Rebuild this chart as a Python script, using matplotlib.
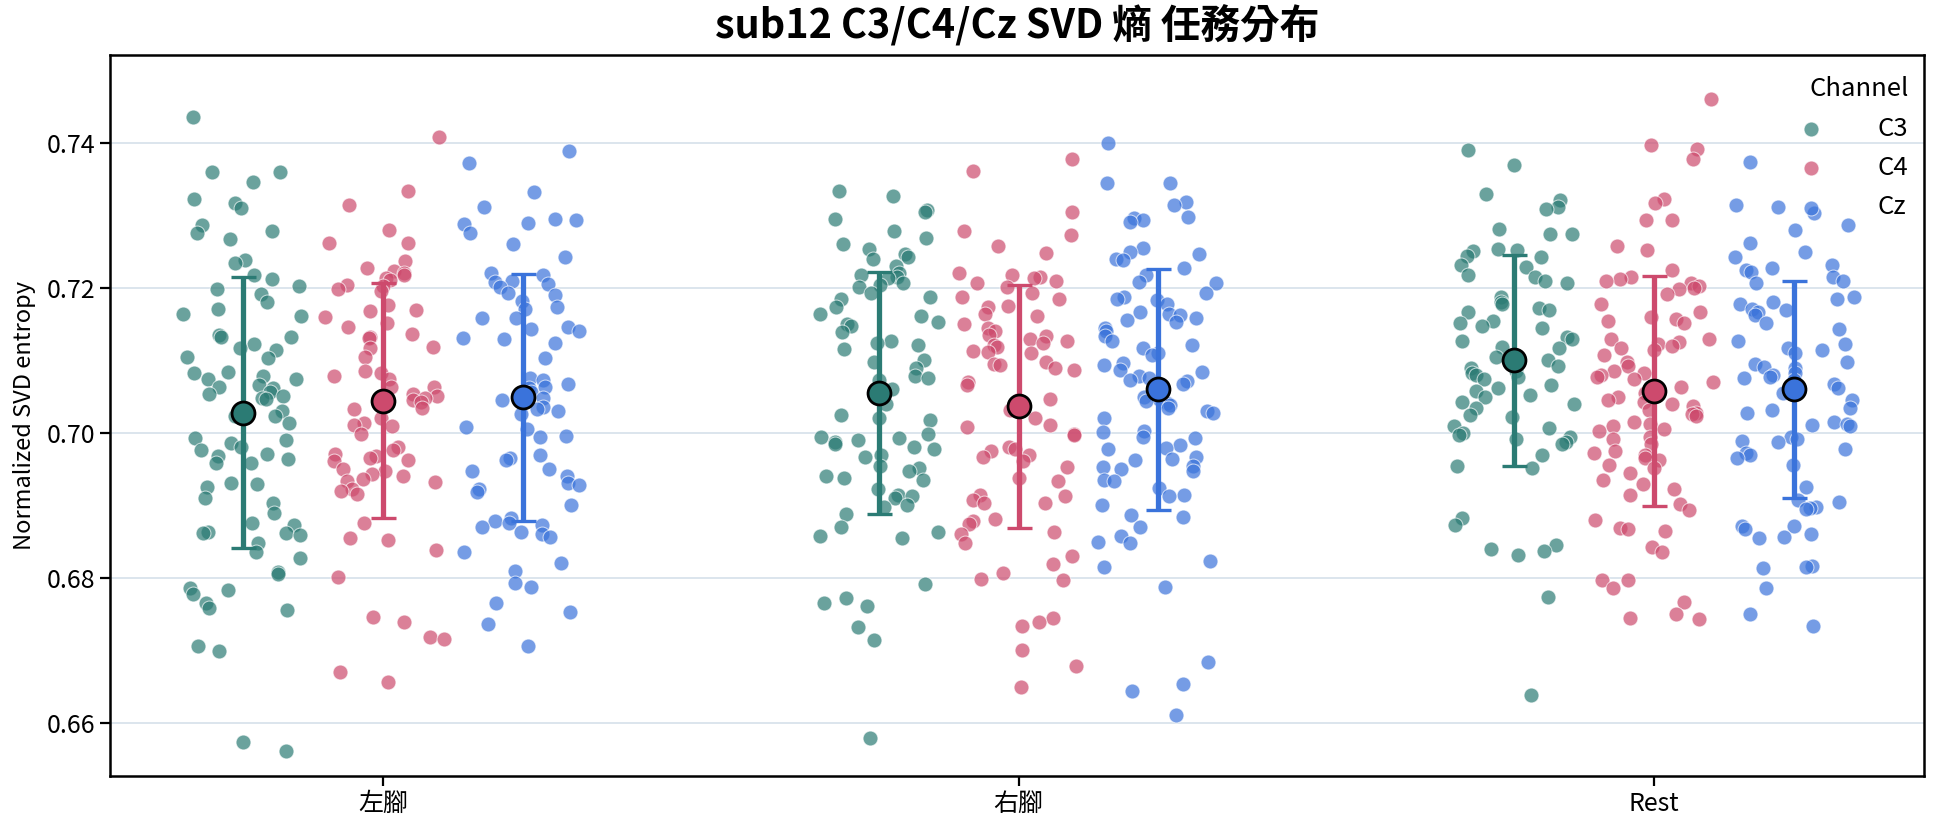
import numpy as np
import matplotlib
matplotlib.use("Agg")
import matplotlib.pyplot as plt

plt.rcParams['font.family'] = ['Noto Sans CJK TC', 'DejaVu Sans']

# %% data
tasks = ["左腳", "右腳", "Rest"]
channels = ["C3", "C4", "Cz"]
colors = ["#2b7b74", "#cd4a6d", "#3a73db"]

c3_left = [0.7435, 0.7359, 0.7359, 0.7346, 0.7322, 0.7317, 0.7310, 0.7286, 0.7279, 0.7276,
           0.7268, 0.7239, 0.7234, 0.7218, 0.7212, 0.7203, 0.7198, 0.7191, 0.7180, 0.7171,
           0.7164, 0.7161, 0.7135, 0.7132, 0.7132, 0.7122, 0.7117, 0.7114, 0.7104, 0.7103,
           0.7084, 0.7082, 0.7079, 0.7074, 0.7074, 0.7066, 0.7063, 0.7062, 0.7056, 0.7054,
           0.7051, 0.7048, 0.7047, 0.7030, 0.7023, 0.7023, 0.7014, 0.6993, 0.6990, 0.6986,
           0.6980, 0.6977, 0.6971, 0.6968, 0.6964, 0.6959, 0.6958, 0.6931, 0.6930, 0.6925,
           0.6910, 0.6903, 0.6889, 0.6876, 0.6873, 0.6863, 0.6862, 0.6862, 0.6859, 0.6848,
           0.6836, 0.6828, 0.6808, 0.6806, 0.6786, 0.6783, 0.6778, 0.6765, 0.6759, 0.6756,
           0.6706, 0.6699, 0.6574, 0.6562]
c4_left = [0.7408, 0.7333, 0.7314, 0.7280, 0.7262, 0.7262, 0.7237, 0.7228, 0.7223, 0.7220,
           0.7217, 0.7214, 0.7211, 0.7204, 0.7202, 0.7199, 0.7196, 0.7176, 0.7169, 0.7168,
           0.7160, 0.7151, 0.7146, 0.7137, 0.7132, 0.7131, 0.7118, 0.7117, 0.7105, 0.7085,
           0.7082, 0.7079, 0.7074, 0.7063, 0.7063, 0.7054, 0.7051, 0.7048, 0.7045, 0.7042,
           0.7034, 0.7033, 0.7020, 0.7014, 0.7011, 0.7010, 0.6999, 0.6980, 0.6977, 0.6971,
           0.6968, 0.6965, 0.6962, 0.6961, 0.6950, 0.6947, 0.6943, 0.6940, 0.6937, 0.6934,
           0.6932, 0.6922, 0.6920, 0.6916, 0.6876, 0.6855, 0.6852, 0.6839, 0.6802, 0.6746,
           0.6739, 0.6719, 0.6716, 0.6671, 0.6656]
cz_left = [0.7388, 0.7372, 0.7332, 0.7311, 0.7295, 0.7294, 0.7289, 0.7288, 0.7276, 0.7260,
           0.7243, 0.7220, 0.7217, 0.7209, 0.7208, 0.7205, 0.7201, 0.7193, 0.7190, 0.7182,
           0.7174, 0.7171, 0.7159, 0.7158, 0.7146, 0.7143, 0.7140, 0.7131, 0.7129, 0.7124,
           0.7103, 0.7076, 0.7073, 0.7067, 0.7063, 0.7062, 0.7057, 0.7048, 0.7045, 0.7036,
           0.7033, 0.7030, 0.7026, 0.7008, 0.7005, 0.6996, 0.6994, 0.6969, 0.6965, 0.6962,
           0.6950, 0.6947, 0.6940, 0.6931, 0.6928, 0.6922, 0.6919, 0.6900, 0.6882, 0.6879,
           0.6876, 0.6873, 0.6870, 0.6863, 0.6860, 0.6857, 0.6836, 0.6820, 0.6809, 0.6793,
           0.6788, 0.6765, 0.6753, 0.6736, 0.6706]

c3_right = [0.7334, 0.7327, 0.7307, 0.7304, 0.7295, 0.7278, 0.7269, 0.7261, 0.7254, 0.7247,
            0.7242, 0.7240, 0.7230, 0.7221, 0.7218, 0.7215, 0.7213, 0.7206, 0.7204, 0.7201,
            0.7193, 0.7187, 0.7185, 0.7173, 0.7164, 0.7161, 0.7153, 0.7150, 0.7147, 0.7139,
            0.7127, 0.7124, 0.7121, 0.7115, 0.7101, 0.7098, 0.7090, 0.7078, 0.7075, 0.7073,
            0.7061, 0.7040, 0.7024, 0.7021, 0.7018, 0.6998, 0.6995, 0.6993, 0.6990, 0.6987,
            0.6984, 0.6981, 0.6978, 0.6970, 0.6967, 0.6955, 0.6951, 0.6947, 0.6941, 0.6938,
            0.6935, 0.6922, 0.6915, 0.6913, 0.6910, 0.6901, 0.6898, 0.6888, 0.6870, 0.6864,
            0.6858, 0.6855, 0.6791, 0.6773, 0.6766, 0.6761, 0.6733, 0.6715, 0.6579]
c4_right = [0.7377, 0.7361, 0.7305, 0.7279, 0.7273, 0.7257, 0.7248, 0.7221, 0.7218, 0.7215,
            0.7213, 0.7210, 0.7207, 0.7201, 0.7193, 0.7187, 0.7184, 0.7175, 0.7173, 0.7164,
            0.7161, 0.7150, 0.7144, 0.7141, 0.7135, 0.7133, 0.7130, 0.7127, 0.7124, 0.7121,
            0.7118, 0.7113, 0.7111, 0.7110, 0.7098, 0.7095, 0.7093, 0.7090, 0.7087, 0.7070,
            0.7066, 0.7047, 0.7045, 0.7031, 0.7021, 0.7011, 0.7008, 0.6998, 0.6997, 0.6981,
            0.6978, 0.6975, 0.6970, 0.6967, 0.6961, 0.6953, 0.6938, 0.6933, 0.6915, 0.6913,
            0.6907, 0.6904, 0.6903, 0.6881, 0.6878, 0.6875, 0.6864, 0.6861, 0.6848, 0.6830,
            0.6819, 0.6807, 0.6798, 0.6797, 0.6745, 0.6739, 0.6734, 0.6700, 0.6678, 0.6650]
cz_right = [0.7400, 0.7345, 0.7344, 0.7318, 0.7314, 0.7298, 0.7296, 0.7293, 0.7291, 0.7255,
            0.7250, 0.7247, 0.7240, 0.7238, 0.7227, 0.7217, 0.7208, 0.7207, 0.7193, 0.7187,
            0.7184, 0.7183, 0.7178, 0.7167, 0.7164, 0.7162, 0.7158, 0.7155, 0.7153, 0.7145,
            0.7141, 0.7133, 0.7127, 0.7121, 0.7117, 0.7110, 0.7107, 0.7097, 0.7093, 0.7087,
            0.7084, 0.7078, 0.7075, 0.7073, 0.7071, 0.7067, 0.7050, 0.7047, 0.7044, 0.7041,
            0.7038, 0.7035, 0.7030, 0.7027, 0.7021, 0.7002, 0.7001, 0.6995, 0.6993, 0.6983,
            0.6979, 0.6978, 0.6967, 0.6964, 0.6962, 0.6955, 0.6953, 0.6950, 0.6947, 0.6935,
            0.6933, 0.6924, 0.6915, 0.6913, 0.6901, 0.6887, 0.6884, 0.6870, 0.6858, 0.6850,
            0.6848, 0.6824, 0.6815, 0.6787, 0.6684, 0.6654, 0.6644, 0.6611]

c3_rest = [0.7390, 0.7369, 0.7330, 0.7321, 0.7312, 0.7308, 0.7281, 0.7274, 0.7274, 0.7254,
           0.7252, 0.7251, 0.7244, 0.7242, 0.7231, 0.7229, 0.7217, 0.7215, 0.7209, 0.7206,
           0.7188, 0.7180, 0.7178, 0.7172, 0.7169, 0.7166, 0.7154, 0.7151, 0.7148, 0.7145,
           0.7132, 0.7130, 0.7127, 0.7118, 0.7117, 0.7108, 0.7105, 0.7100, 0.7092, 0.7089,
           0.7086, 0.7083, 0.7080, 0.7077, 0.7074, 0.7066, 0.7062, 0.7058, 0.7052, 0.7049,
           0.7043, 0.7040, 0.7034, 0.7025, 0.7022, 0.7009, 0.7007, 0.7000, 0.6997, 0.6994,
           0.6991, 0.6988, 0.6985, 0.6969, 0.6954, 0.6951, 0.6883, 0.6873, 0.6846, 0.6840,
           0.6837, 0.6831, 0.6774, 0.6639]
c4_rest = [0.7460, 0.7397, 0.7391, 0.7377, 0.7322, 0.7317, 0.7294, 0.7294, 0.7258, 0.7252,
           0.7225, 0.7215, 0.7212, 0.7210, 0.7206, 0.7203, 0.7200, 0.7198, 0.7191, 0.7178,
           0.7166, 0.7160, 0.7157, 0.7154, 0.7151, 0.7130, 0.7129, 0.7126, 0.7123, 0.7120,
           0.7117, 0.7114, 0.7108, 0.7098, 0.7092, 0.7086, 0.7083, 0.7080, 0.7077, 0.7074,
           0.7070, 0.7063, 0.7055, 0.7049, 0.7046, 0.7043, 0.7040, 0.7037, 0.7031, 0.7028,
           0.7026, 0.7023, 0.7015, 0.7012, 0.7009, 0.7006, 0.7003, 0.6994, 0.6991, 0.6985,
           0.6975, 0.6972, 0.6969, 0.6966, 0.6963, 0.6956, 0.6951, 0.6945, 0.6935, 0.6929,
           0.6923, 0.6914, 0.6902, 0.6894, 0.6880, 0.6869, 0.6868, 0.6865, 0.6843, 0.6836,
           0.6797, 0.6797, 0.6786, 0.6767, 0.6750, 0.6745, 0.6743]
cz_rest = [0.7374, 0.7314, 0.7311, 0.7303, 0.7286, 0.7280, 0.7262, 0.7249, 0.7242, 0.7231,
           0.7228, 0.7225, 0.7222, 0.7215, 0.7209, 0.7206, 0.7188, 0.7185, 0.7180, 0.7178,
           0.7171, 0.7169, 0.7166, 0.7163, 0.7151, 0.7143, 0.7127, 0.7123, 0.7117, 0.7114,
           0.7110, 0.7098, 0.7095, 0.7091, 0.7089, 0.7083, 0.7080, 0.7077, 0.7075, 0.7073,
           0.7068, 0.7062, 0.7055, 0.7046, 0.7035, 0.7032, 0.7028, 0.7015, 0.7012, 0.7011,
           0.7009, 0.6994, 0.6991, 0.6989, 0.6988, 0.6978, 0.6972, 0.6969, 0.6966, 0.6956,
           0.6925, 0.6908, 0.6905, 0.6898, 0.6897, 0.6895, 0.6872, 0.6871, 0.6868, 0.6860,
           0.6855, 0.6856, 0.6817, 0.6815, 0.6814, 0.6786, 0.6750, 0.6734]

data = {
    "左腳": [c3_left, c4_left, cz_left],
    "右腳": [c3_right, c4_right, cz_right],
    "Rest": [c3_rest, c4_rest, cz_rest],
}

# %% plot
fig = plt.figure(figsize=(19.44, 8.27), dpi=100)
ax = fig.add_axes([0.0566, 0.0617, 0.9331, 0.8718])

rng = np.random.default_rng(3)  # horizontal jitter only
dodge = 0.22
for i, task in enumerate(tasks):
    for j, ch in enumerate(channels):
        vals = np.array(data[task][j])
        x0 = i + (j - 1) * dodge
        xs = x0 + rng.uniform(-0.095, 0.095, len(vals))
        ax.scatter(xs, vals, s=115, color=colors[j], alpha=0.7, edgecolors="white",
                   linewidths=0.7, zorder=2, label=ch if i == 0 else None)
        # mean +- std
        m = vals.mean()
        sd = vals.std(ddof=1)
        ax.errorbar(x0, m, yerr=sd, color=colors[j], lw=3.8, capsize=9,
                    capthick=2.4, zorder=3)
        ax.plot(x0, m, "o", ms=16.5, mfc=colors[j], mec="black", mew=2, zorder=4)

ax.set_xlim(-0.43, 2.425)
ax.set_ylim(0.6527, 0.7521)
ax.set_xticks(range(len(tasks)))
ax.set_xticklabels(tasks, fontsize=18)
ax.set_yticks([0.66, 0.68, 0.70, 0.72, 0.74])
ax.set_yticklabels(["0.66", "0.68", "0.70", "0.72", "0.74"], fontsize=18)
ax.tick_params(axis="both", length=7, width=1.6)
ax.yaxis.grid(True, color="#dce5ed", lw=1.4)
ax.set_axisbelow(True)
for sp in ax.spines.values():
    sp.set_linewidth(1.8)

ax.set_ylabel("Normalized SVD entropy", fontsize=17, labelpad=8)
ax.set_title("sub12 C3/C4/Cz SVD 熵 任務分布", fontsize=28.5, fontweight="bold", pad=12)

leg = ax.legend(title="Channel", loc="upper right", bbox_to_anchor=(1.0, 0.992),
                frameon=False, fontsize=18.5, title_fontsize=18.5, labelspacing=0.52,
                handletextpad=1.6, markerscale=1.0, alignment="right",
                borderaxespad=0.2)

fig.savefig("out.png", dpi=100)
